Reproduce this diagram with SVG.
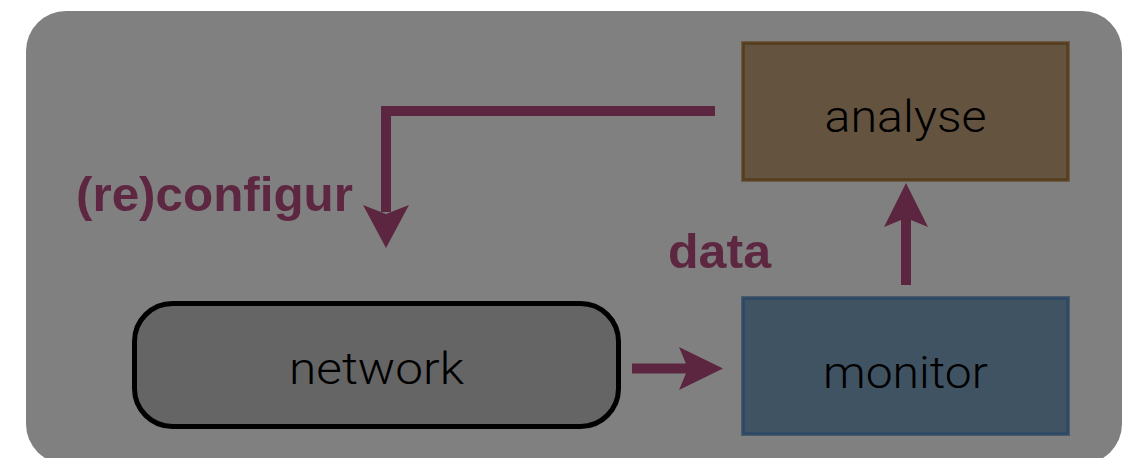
<svg xmlns="http://www.w3.org/2000/svg" width="1129" height="458" viewBox="0 0 1129 458">
<style>
.lbl{font-family:"Liberation Sans",Arial,sans-serif;font-weight:bold;font-size:48px;fill:#5e2741}
.nt{font-family:Roboto,"Liberation Sans",Arial,sans-serif;font-weight:300;font-size:44px;fill:#000;text-anchor:middle}
.ln{stroke:#5c2640;stroke-width:10;fill:none;stroke-linejoin:miter}
.hd{fill:#5c2640}
</style>
<rect width="1129" height="458" fill="#ffffff"/>
<rect id="panel" x="26" y="11" width="1096" height="453" rx="40" ry="40" fill="#808080"/>
<g id="connectors">
<path class="ln" d="M715,111 H386 V212"/>
<polygon class="hd" points="363,205 386,248 409,205 386,214"/>
<path class="ln" d="M906,285 V218"/>
<polygon class="hd" points="884,227 906,183 928,227 906,218"/>
<path class="ln" d="M632,368.5 H690"/>
<polygon class="hd" points="679,347 723,368.5 679,390 688,368.5"/>
</g>
<g id="label-reconfig"><text class="lbl" x="76" y="211" textLength="277" lengthAdjust="spacingAndGlyphs">(re)configur</text></g>
<g id="label-data"><text class="lbl" x="668" y="268" textLength="103" lengthAdjust="spacingAndGlyphs">data</text></g>
<g id="analyse">
<rect x="741" y="41" width="329" height="141" fill="#6b5942"/>
<rect x="743.5" y="43.5" width="324" height="136" fill="#63533f" stroke="#563c1f" stroke-width="2.5"/>
<text class="nt" x="905.5" y="132" textLength="162" lengthAdjust="spacingAndGlyphs">analyse</text>
</g>
<g id="monitor">
<rect x="741" y="296" width="329" height="140" fill="#4a5a68"/>
<rect x="743.5" y="298.5" width="324" height="135" fill="#405363" stroke="#2c4864" stroke-width="2.5"/>
<text class="nt" x="905.5" y="388" textLength="165" lengthAdjust="spacingAndGlyphs">monitor</text>
</g>
<g id="network">
<rect x="134.5" y="303.5" width="484" height="123" rx="38" ry="38" fill="#656565" stroke="#000" stroke-width="5"/>
<text class="nt" x="376.5" y="384" textLength="175" lengthAdjust="spacingAndGlyphs">network</text>
</g>
</svg>
